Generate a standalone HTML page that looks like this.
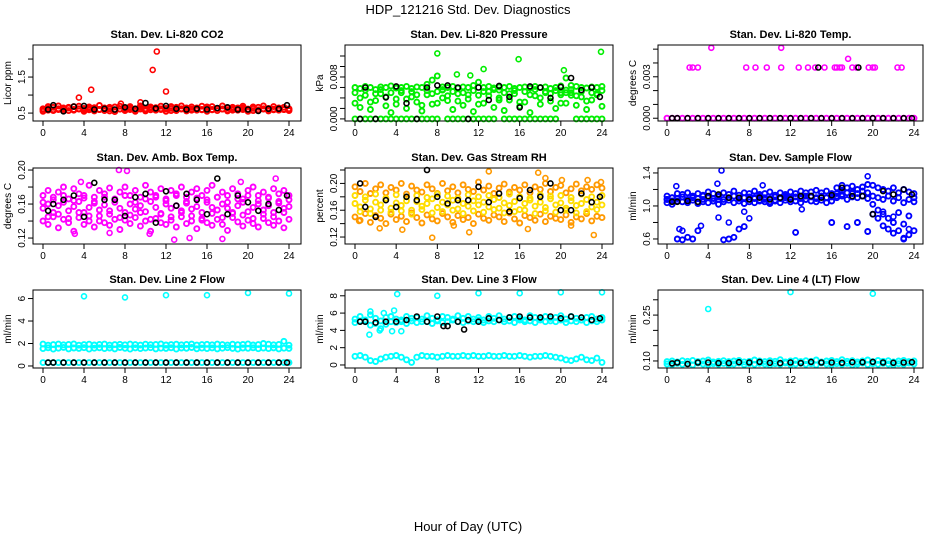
<!DOCTYPE html>
<html><head><meta charset="utf-8"><style>
body{margin:0;background:#fff;}
svg{display:block;font-family:"Liberation Sans",Arial,sans-serif;}
</style></head><body>
<svg id="fig" width="936" height="540" viewBox="0 0 936 540" xmlns="http://www.w3.org/2000/svg">
<text x="468" y="14" font-size="13" text-anchor="middle">HDP_121216  Std. Dev. Diagnostics</text>
<text x="468" y="531" font-size="13" text-anchor="middle">Hour of Day (UTC)</text>
</svg>
<script>
const sampleHours = [0,0.5,1,1.5,2,2.5,3,3.5,4,4.5,5,5.5,6,6.5,7,7.5,8,8.5,9,9.5,10,10.5,11,11.5,12,12.5,13,13.5,14,14.5,15,15.5,16,16.5,17,17.5,18,18.5,19,19.5,20,20.5,21,21.5,22,22.5,23,23.5,24];
const blackHours = [0.5,1,2,3,4,5,6,7,8,9,10,11,12,13,14,15,16,17,18,19,20,21,22,23,23.8];
const xTicks = [0,4,8,12,16,20,24];

const co2A = [0.62,0.58,0.66,0.60,0.64,0.57,0.68,0.61,0.63,0.59,0.65,0.60,0.62,0.56,0.67,0.61,0.60,0.64,0.58,0.66,0.62,0.59,0.65,0.60,0.63,0.57,0.66,0.61,0.64,0.58,0.62,0.60,0.67,0.59,0.63,0.61,0.65,0.58,0.62,0.64,0.60,0.57,0.66,0.61,0.63,0.59,0.64,0.60,0.62];
const co2B = [0.55,0.68,0.57,0.70,0.56,0.66,0.58,0.69,0.55,0.67,0.56,0.71,0.57,0.66,0.54,0.69,0.57,0.68,0.55,0.70,0.56,0.67,0.58,0.69,0.55,0.68,0.57,0.70,0.56,0.67,0.58,0.69,0.55,0.68,0.57,0.70,0.56,0.66,0.58,0.69,0.55,0.67,0.57,0.70,0.56,0.68,0.58,0.66,0.57];
const co2C = [0.60,0.63,0.59,0.62,0.61,0.64,0.60,0.62,0.59,0.63,0.61,0.60,0.64,0.62,0.59,0.61,0.63,0.60,0.62,0.61,0.59,0.64,0.60,0.62,0.61,0.63,0.59,0.62,0.60,0.61,0.64,0.59,0.62,0.60,0.63,0.61,0.59,0.62,0.64,0.60,0.61,0.63,0.59,0.62,0.60,0.61,0.63,0.60,0.59];
const co2Out = [[3.5,0.93],[4.7,1.15],[10.7,1.70],[11.1,2.21],[12.0,1.10],[9.5,0.80],[7.6,0.76]];
const co2K = [0.60,0.72,0.55,0.68,0.70,0.60,0.62,0.60,0.66,0.62,0.78,0.63,0.70,0.62,0.60,0.62,0.60,0.64,0.66,0.60,0.60,0.56,0.62,0.62,0.72];

const presA = [6.0,5.8,6.2,6.0,5.6,6.1,6.0,6.3,5.9,6.0,6.2,5.8,6.1,6.0,6.6,7.4,8.2,6.1,6.0,6.2,5.9,6.1,6.0,6.4,7.0,6.0,6.2,5.9,6.1,6.0,6.2,5.8,6.0,6.1,5.9,6.2,6.0,6.1,5.8,6.0,6.3,7.8,6.4,6.2,6.0,5.9,6.1,6.0,6.2];
const presB = [3.0,2.2,4.5,1.8,3.5,4.8,2.5,1.2,3.8,5.0,2.0,4.2,3.2,1.5,4.6,2.8,5.2,4.0,3.5,1.8,4.8,2.6,3.8,1.4,4.5,3.0,5.2,2.2,4.0,1.6,3.6,4.8,2.4,3.2,1.2,4.4,2.8,5.0,3.4,2.0,4.6,3.0,5.0,2.6,4.2,1.8,3.6,4.8,2.4];
const presC = [0,0,0,0,0,0,0,0,0,0,0,0,0,0,0,0,0,5.5,0,0,0,0,0,0,0,0,0,0,5.5,0,0,0,0,0,0,0,0,0,0,0,5.0,5.5,4.5,0,0,0,0,0,0];
const presD = [5.0,4.0,5.5,3.2,4.8,5.6,4.2,5.0,2.8,5.4,3.8,5.2,4.6,2.6,5.4,4.8,3.0,5.6,4.4,5.2,3.4,5.0,4.6,5.4,2.8,5.2,4.4,5.6,3.6,5.0,4.8,5.4,3.2,5.2,4.6,5.6,4.0,5.2,4.8,5.4,3.0,5.0,5.6,4.4,5.2,3.4,5.0,4.6,5.4];
const presOut = [[8.0,12.5],[15.9,11.4],[23.9,12.8],[12.5,9.5],[20.3,9.3],[11.2,8.3],[9.9,8.5]];
const presK = [0,6.0,0,4.1,6.2,3.0,0,6.0,6.4,6.4,6.0,0,6.0,3.6,6.3,4.2,2.2,6.2,6.0,4.0,6.1,7.8,5.5,6.0,4.2];

const tempA = [0,0,0,0,0,0,0,0,0,0,0,0,0,0,0,0,0,0,0,0,0,0,0,0,0,0,0,0,0,0,0,0,0,0,0,0,0,0,0,0,0,0,0,0,0,0,0,0,0];
const tempOut = [[2.2,3.67],[2.5,3.67],[3.0,3.67],[7.7,3.67],[8.6,3.67],[9.7,3.67],[11.1,3.67],[12.8,3.67],[13.7,3.67],[14.4,3.67],[15.3,3.67],[16.3,3.67],[16.5,3.67],[16.8,3.67],[17.0,3.67],[18.0,3.67],[18.4,3.67],[19.6,3.67],[20.0,3.67],[20.2,3.67],[22.4,3.67],[22.8,3.67],[4.3,5.1],[11.1,5.1],[17.6,4.3]];
const tempK = [0,0,0,0,0,0,0,0,0,0,0,0,0,0,0,0,0,0,0,0,0,0,0,0,0];
const tempKOut = [[14.7,3.67],[18.6,3.67]];

const ambA = [0.170,0.176,0.168,0.174,0.180,0.166,0.178,0.172,0.170,0.182,0.168,0.176,0.172,0.179,0.166,0.174,0.180,0.170,0.176,0.168,0.182,0.174,0.170,0.178,0.166,0.176,0.172,0.180,0.168,0.174,0.178,0.170,0.176,0.182,0.168,0.174,0.170,0.178,0.172,0.166,0.176,0.180,0.170,0.174,0.168,0.178,0.172,0.176,0.170];
const ambB = [0.155,0.160,0.150,0.158,0.162,0.152,0.157,0.163,0.150,0.156,0.161,0.153,0.159,0.148,0.162,0.155,0.150,0.160,0.154,0.158,0.151,0.163,0.156,0.149,0.160,0.155,0.158,0.152,0.161,0.154,0.157,0.150,0.162,0.156,0.153,0.160,0.155,0.149,0.158,0.162,0.151,0.156,0.160,0.153,0.158,0.150,0.161,0.155,0.157];
const ambC = [0.140,0.136,0.145,0.132,0.142,0.138,0.128,0.144,0.136,0.140,0.133,0.146,0.138,0.135,0.142,0.130,0.141,0.137,0.144,0.134,0.140,0.128,0.143,0.138,0.136,0.141,0.133,0.145,0.137,0.140,0.131,0.143,0.138,0.135,0.142,0.136,0.129,0.144,0.139,0.134,0.141,0.137,0.133,0.143,0.138,0.135,0.140,0.132,0.142];
const ambD = [0.162,0.145,0.165,0.148,0.170,0.143,0.164,0.150,0.167,0.146,0.163,0.140,0.168,0.152,0.165,0.144,0.170,0.147,0.162,0.150,0.166,0.142,0.168,0.148,0.164,0.145,0.170,0.150,0.163,0.146,0.167,0.141,0.165,0.149,0.168,0.144,0.162,0.150,0.166,0.147,0.170,0.143,0.164,0.148,0.167,0.145,0.163,0.150,0.165];
const ambOut = [[3.1,0.125],[7.4,0.200],[8.2,0.199],[14.3,0.120],[17.5,0.119],[10.4,0.125],[22.7,0.190],[6.5,0.126],[3.7,0.186],[19.3,0.186],[12.8,0.118]];
const ambK = [0.152,0.160,0.165,0.170,0.145,0.185,0.165,0.165,0.146,0.168,0.172,0.138,0.175,0.158,0.172,0.165,0.148,0.190,0.148,0.170,0.162,0.152,0.160,0.153,0.170];

const rhA = [0.195,0.188,0.200,0.185,0.192,0.198,0.186,0.194,0.190,0.200,0.184,0.196,0.190,0.187,0.198,0.192,0.185,0.200,0.189,0.195,0.186,0.198,0.191,0.188,0.202,0.190,0.196,0.185,0.193,0.199,0.187,0.194,0.190,0.198,0.186,0.195,0.191,0.200,0.188,0.194,0.197,0.186,0.192,0.199,0.189,0.195,0.191,0.198,0.193];
const rhB = [0.170,0.165,0.175,0.162,0.172,0.168,0.176,0.163,0.171,0.167,0.174,0.160,0.173,0.166,0.170,0.177,0.164,0.172,0.168,0.175,0.162,0.170,0.166,0.174,0.168,0.172,0.165,0.176,0.163,0.171,0.167,0.173,0.161,0.170,0.175,0.166,0.172,0.164,0.177,0.168,0.171,0.163,0.174,0.167,0.170,0.176,0.165,0.172,0.168];
const rhC = [0.150,0.145,0.155,0.142,0.152,0.148,0.140,0.154,0.146,0.151,0.143,0.156,0.149,0.141,0.153,0.147,0.144,0.155,0.150,0.142,0.152,0.146,0.149,0.140,0.154,0.148,0.145,0.153,0.150,0.143,0.156,0.147,0.141,0.152,0.149,0.145,0.154,0.143,0.151,0.148,0.146,0.153,0.142,0.150,0.147,0.155,0.144,0.151,0.149];
const rhD = [0.182,0.158,0.180,0.155,0.184,0.160,0.178,0.157,0.183,0.159,0.180,0.154,0.182,0.161,0.179,0.156,0.184,0.158,0.181,0.160,0.178,0.155,0.183,0.159,0.180,0.157,0.182,0.161,0.179,0.156,0.184,0.158,0.180,0.160,0.178,0.155,0.183,0.159,0.181,0.157,0.182,0.160,0.179,0.156,0.184,0.158,0.180,0.161,0.182];
const rhOut = [[2.4,0.133],[4.6,0.131],[7.5,0.119],[11.1,0.127],[13.0,0.218],[16.8,0.132],[17.8,0.216],[18.5,0.208],[20.1,0.205],[21.0,0.137],[22.6,0.205],[23.2,0.123],[23.9,0.202],[0.4,0.144],[9.6,0.137]];
const rhK = [0.200,0.165,0.150,0.175,0.165,0.180,0.175,0.220,0.180,0.170,0.175,0.175,0.195,0.172,0.185,0.158,0.178,0.190,0.180,0.200,0.160,0.160,0.185,0.172,0.180];

const flowA = [1.12,1.10,1.15,1.14,1.16,1.12,1.15,1.13,1.17,1.15,1.12,1.16,1.14,1.18,1.13,1.16,1.15,1.18,1.14,1.15,1.17,1.13,1.16,1.14,1.17,1.15,1.18,1.16,1.17,1.19,1.16,1.18,1.15,1.22,1.25,1.22,1.24,1.20,1.23,1.26,1.25,1.22,1.20,1.18,1.22,1.16,1.20,1.17,1.15];
const flowB = [1.04,1.02,1.06,1.05,1.04,1.07,1.03,1.05,1.04,1.06,1.02,1.05,1.07,1.04,1.06,1.03,1.05,1.04,1.07,1.05,1.03,1.06,1.04,1.07,1.05,1.06,1.04,1.08,1.06,1.05,1.07,1.04,1.06,1.10,1.12,1.08,1.11,1.10,1.12,1.09,1.02,0.95,0.90,0.85,0.80,0.92,0.78,0.88,1.05];
const flowC = [1.08,1.06,0.60,0.59,0.62,0.60,0.70,1.08,1.10,1.06,1.08,0.59,0.60,0.62,0.72,0.75,1.08,1.10,1.06,1.08,1.05,1.07,1.09,1.10,1.08,0.68,1.10,1.08,1.12,1.09,1.11,1.10,0.80,1.12,1.14,0.75,1.15,0.80,1.12,0.69,0.90,0.85,0.76,0.72,0.67,0.70,0.60,0.65,0.70];
const flowD = [1.08,1.10,1.09,1.11,1.08,1.10,1.09,1.12,1.10,1.09,1.11,1.08,1.10,1.12,1.09,1.10,1.11,1.09,1.12,1.10,1.09,1.11,1.10,1.12,1.10,1.11,1.09,1.12,1.11,1.10,1.12,1.10,1.11,1.15,1.18,1.16,1.17,1.15,1.18,1.16,1.12,1.10,1.08,1.12,1.06,1.10,1.04,1.08,1.10];
const flowOut = [[5.3,1.43],[4.9,1.27],[5.0,0.86],[3.3,0.76],[1.2,0.72],[0.9,1.24],[1.5,0.70],[6.0,0.80],[7.5,0.93],[8.0,0.85],[9.3,1.25],[13.1,0.96],[19.5,1.36],[21.0,0.93],[22.0,0.87],[23.0,0.61],[23.5,0.72]];
const flowK = [1.05,1.05,1.06,1.05,1.12,1.14,1.10,1.10,1.08,1.10,1.08,1.10,1.08,1.12,1.12,1.10,1.13,1.22,1.12,1.12,0.90,1.18,1.14,1.20,1.14];

const line2A = [1.95,1.85,1.90,1.95,1.88,1.92,1.96,1.85,1.90,1.94,1.87,1.92,1.95,1.86,1.90,1.93,1.88,1.95,1.90,1.86,1.94,1.89,1.92,1.96,1.87,1.90,1.94,1.88,1.92,1.95,1.86,1.90,1.93,1.88,1.95,1.90,1.86,1.94,1.89,1.92,1.96,1.87,1.90,2.00,1.94,1.88,1.92,2.20,1.85];
const line2B = [1.55,1.62,1.50,1.58,1.65,1.52,1.60,1.56,1.63,1.50,1.58,1.62,1.55,1.60,1.52,1.64,1.57,1.50,1.61,1.55,1.59,1.63,1.52,1.58,1.56,1.62,1.50,1.60,1.57,1.64,1.53,1.59,1.55,1.61,1.52,1.58,1.63,1.56,1.50,1.60,1.57,1.62,1.54,1.59,1.55,1.61,1.52,1.58,1.56];
const line2C = [0.3,0.3,0.3,0.3,0.3,0.3,0.3,0.3,0.3,0.3,0.3,0.3,0.3,0.3,0.3,0.3,0.3,0.3,0.3,0.3,0.3,0.3,0.3,0.3,0.3,0.3,0.3,0.3,0.3,0.3,0.3,0.3,0.3,0.3,0.3,0.3,0.3,0.3,0.3,0.3,0.3,0.3,0.3,0.3,0.3,0.3,0.3,0.3,0.3];
const line2Out = [[4,6.2],[8,6.1],[12,6.3],[16,6.3],[20,6.5],[24,6.45]];
const line2K = [0.3,0.3,0.3,0.3,0.3,0.3,0.3,0.3,0.3,0.3,0.3,0.3,0.3,0.3,0.3,0.3,0.3,0.3,0.3,0.3,0.3,0.3,0.3,0.3,0.3];

const line3A = [5.3,5.6,5.2,5.8,5.4,5.1,5.5,5.6,5.3,5.2,5.6,5.4,5.5,5.3,5.7,5.4,5.2,5.6,5.5,5.3,5.7,5.4,5.6,5.3,5.5,5.2,5.6,5.4,5.7,5.3,5.5,5.6,5.4,5.2,5.7,5.5,5.3,5.6,5.4,5.5,5.7,5.3,5.6,5.4,5.2,5.5,5.6,5.3,5.5];
const line3B = [4.9,5.1,5.0,4.6,4.8,4.2,4.7,5.0,4.9,5.0,4.8,5.1,4.9,5.0,5.0,4.8,5.1,4.9,5.0,5.2,5.0,4.9,5.1,5.0,5.2,4.9,5.1,5.0,5.2,5.0,5.1,4.9,5.2,5.0,5.1,4.9,5.2,5.0,5.1,5.0,5.2,4.9,5.1,5.0,5.2,4.9,5.1,5.0,5.2];
const line3C = [1.0,1.1,0.9,0.5,0.4,0.7,0.9,1.0,1.1,0.9,0.6,0.3,0.9,1.1,1.0,1.0,0.9,1.0,1.1,1.0,1.0,1.1,1.0,1.1,1.0,1.0,1.1,1.0,1.0,1.1,1.0,1.0,1.1,1.0,0.9,1.0,1.0,1.1,1.0,0.9,0.8,0.6,0.5,0.7,0.9,0.6,0.5,0.8,0.3];
const line3Out = [[1.5,6.2],[1.4,3.5],[2.4,4.0],[3.6,3.9],[3.8,6.3],[4.1,8.2],[4.5,3.9],[8.0,8.0],[12,8.3],[16,8.3],[20,8.4],[24,8.4],[2.8,6.0]];
const line3K = [5.0,5.0,4.9,5.0,5.0,5.2,5.6,5.0,5.6,4.5,5.0,5.2,5.0,5.4,5.2,5.5,5.6,5.5,5.5,5.6,5.4,5.6,5.5,5.2,5.4];
const line3KOut = [[8.6,4.5],[10.6,4.1]];

const line4A = [0.098,0.100,0.097,0.101,0.099,0.102,0.098,0.100,0.103,0.097,0.099,0.101,0.098,0.100,0.102,0.097,0.099,0.103,0.100,0.098,0.101,0.099,0.104,0.097,0.100,0.102,0.098,0.101,0.099,0.103,0.097,0.100,0.102,0.098,0.104,0.099,0.101,0.097,0.100,0.103,0.098,0.102,0.099,0.101,0.097,0.100,0.102,0.098,0.100];
const line4B = [0.090,0.088,0.092,0.089,0.091,0.087,0.093,0.090,0.088,0.091,0.089,0.092,0.087,0.090,0.093,0.088,0.091,0.089,0.092,0.090,0.087,0.091,0.089,0.093,0.088,0.090,0.092,0.089,0.091,0.087,0.093,0.090,0.088,0.091,0.089,0.092,0.087,0.090,0.093,0.088,0.091,0.089,0.092,0.090,0.087,0.091,0.089,0.093,0.090];
const line4Out = [[4,0.27],[12,0.325],[20,0.32]];
const line4K = [0.092,0.095,0.090,0.095,0.095,0.093,0.093,0.096,0.095,0.097,0.094,0.093,0.095,0.093,0.097,0.095,0.095,0.094,0.096,0.096,0.097,0.095,0.094,0.095,0.096];

const co2YTicks=[0.5,1.0,1.5,2.0], co2YLabels=["0.5","","1.5",""];
const presYTicks=[0,2,4,6,8,10,12], presYLabels=["0.000","","","","0.008","",""];
const tempYTicks=[0,1,2,3,4,5], tempYLabels=["0.000","","","0.003","",""];
const ambYTicks=[0.12,0.14,0.16,0.18,0.20], ambYLabels=["0.12","","0.16","","0.20"];
const rhYTicks=[0.12,0.14,0.16,0.18,0.20,0.22], rhYLabels=["0.12","","0.16","","0.20",""];
const flowYTicks=[0.6,0.8,1.0,1.2,1.4], flowYLabels=["0.6","","1.0","","1.4"];
const line2YTicks=[0,2,4,6], line2YLabels=["0","2","4","6"];
const line3YTicks=[0,2,4,6,8], line3YLabels=["0","2","4","6","8"];
const line4YTicks=[0.10,0.15,0.20,0.25,0.30], line4YLabels=["0.10","","","0.25",""];

const NS="http://www.w3.org/2000/svg";
const svg=document.getElementById('fig');
const cols=[{l:33,r:301,x0:43,x24:289},{l:345,r:613,x0:355,x24:602},{l:658,r:923,x0:667,x24:914}];
const rows=[{t:45,b:121},{t:168,b:244},{t:290,b:368}];
function mk(tag,attrs,parent){const e=document.createElementNS(NS,tag);for(const k in attrs)e.setAttribute(k,attrs[k]);(parent||svg).appendChild(e);return e;}

const panels=[
 {name:'co2',title:'Stan. Dev. Li-820 CO2',ylab:'Licor ppm',c:0,r:0,ymin:0.28,ymax:2.39,series:[[co2A,'#ff0000'],[co2B,'#ff0000'],[co2C,'#ff0000']],out:co2Out,oc:'#ff0000',k:co2K,yt:co2YTicks,yl:co2YLabels},
 {name:'pressure',title:'Stan. Dev. Li-820 Pressure',ylab:'kPa',c:1,r:0,ymin:-0.4,ymax:14.1,series:[[presA,'#00ee00'],[presB,'#00ee00'],[presC,'#00ee00'],[presD,'#00ee00']],out:presOut,oc:'#00ee00',k:presK,yt:presYTicks,yl:presYLabels},
 {name:'li820-temp',title:'Stan. Dev. Li-820 Temp.',ylab:'degrees C',c:2,r:0,ymin:-0.2,ymax:5.3,series:[[tempA,'#ff00ff']],out:tempOut,oc:'#ff00ff',k:tempK,kOut:tempKOut,yt:tempYTicks,yl:tempYLabels},
 {name:'amb-box-temp',title:'Stan. Dev. Amb. Box Temp.',ylab:'degrees C',c:0,r:1,ymin:0.113,ymax:0.2024,series:[[ambA,'#ff00ff'],[ambB,'#ff00ff'],[ambC,'#ff00ff'],[ambD,'#ff00ff']],out:ambOut,oc:'#ff00ff',k:ambK,yt:ambYTicks,yl:ambYLabels},
 {name:'gas-stream-rh',title:'Stan. Dev. Gas Stream RH',ylab:'percent',c:1,r:1,ymin:0.1096,ymax:0.223,series:[[rhA,'#ff9900'],[rhB,'#ffdd00'],[rhC,'#ff9900'],[rhD,'#ffdd00']],out:rhOut,oc:'#ff9900',k:rhK,yt:rhYTicks,yl:rhYLabels},
 {name:'sample-flow',title:'Stan. Dev. Sample Flow',ylab:'ml/min',c:2,r:1,ymin:0.539,ymax:1.46,series:[[flowA,'#0000ff'],[flowB,'#0000ff'],[flowC,'#0000ff'],[flowD,'#0000ff']],out:flowOut,oc:'#0000ff',k:flowK,yt:flowYTicks,yl:flowYLabels},
 {name:'line2-flow',title:'Stan. Dev. Line 2 Flow',ylab:'ml/min',c:0,r:2,ymin:-0.18,ymax:6.76,series:[[line2A,'#00ffff'],[line2B,'#00ffff'],[line2C,'#00ffff']],out:line2Out,oc:'#00ffff',k:line2K,yt:line2YTicks,yl:line2YLabels},
 {name:'line3-flow',title:'Stan. Dev. Line 3 Flow',ylab:'ml/min',c:1,r:2,ymin:-0.35,ymax:8.67,series:[[line3A,'#00ffff'],[line3B,'#00ffff'],[line3C,'#00ffff']],out:line3Out,oc:'#00ffff',k:line3K,kOut:line3KOut,yt:line3YTicks,yl:line3YLabels},
 {name:'line4-flow',title:'Stan. Dev. Line 4 (LT) Flow',ylab:'ml/min',c:2,r:2,ymin:0.077,ymax:0.332,series:[[line4A,'#00ffff'],[line4B,'#00ffff']],out:line4Out,oc:'#00ffff',k:line4K,yt:line4YTicks,yl:line4YLabels}
];

panels.forEach(p=>{
  const C=cols[p.c],R=rows[p.r];
  const g=mk('g',{});
  
  
  const xs=h=>C.x0+(C.x24-C.x0)*h/24;
  const ys=v=>R.b-(R.b-R.t)*(v-p.ymin)/(p.ymax-p.ymin);
  const dot=(h,v,col,nm,sw)=>{const e=mk('circle',{cx:xs(h).toFixed(1),cy:ys(v).toFixed(1),r:2.5,fill:'none',stroke:col,'stroke-width':sw},g);
    
    };
  p.series.forEach(([arr,col])=>arr.forEach((v,i)=>dot(sampleHours[i],v,col,'data-point',1.9)));
  p.out.forEach(([h,v])=>dot(h,v,p.oc,'outlier-point',1.6));
  p.k.forEach((v,i)=>dot(blackHours[i],v,'#000','hourly-mean-point',1.6));
  (p.kOut||[]).forEach(([h,v])=>dot(h,v,'#000','hourly-mean-point',1.6));
  const box=mk('rect',{x:C.l,y:R.t,width:C.r-C.l,height:R.b-R.t,fill:'none',stroke:'#000','stroke-width':1},g);
  
  
  const t=mk('text',{x:(C.l+C.r)/2,y:R.t-7,'font-size':11,'font-weight':'bold','text-anchor':'middle'},g);
  t.textContent=p.title;
  
  
  const yl=mk('text',{x:0,y:0,'font-size':10,'text-anchor':'middle',transform:`translate(${C.l-22},${(R.t+R.b)/2}) rotate(-90)`},g);
  yl.textContent=p.ylab;
  
  
  mk('line',{x1:xs(0),x2:xs(24),y1:R.b,y2:R.b,stroke:'#000'},g);
  xTicks.forEach(h=>{mk('line',{x1:xs(h),x2:xs(h),y1:R.b,y2:R.b+5,stroke:'#000'},g);
    const tl=mk('text',{x:xs(h),y:R.b+15,'font-size':10,'text-anchor':'middle'},g);tl.textContent=h;
    
    });
  p.yt.forEach((v,i)=>{const y=ys(v);mk('line',{x1:C.l-5,x2:C.l,y1:y,y2:y,stroke:'#000'},g);
    if(p.yl[i]){const tl=mk('text',{x:0,y:0,'font-size':10,'text-anchor':'middle',transform:`translate(${C.l-8},${y}) rotate(-90)`},g);tl.textContent=p.yl[i];
    
    }});
  mk('line',{x1:C.l,x2:C.l,y1:ys(p.yt[0]),y2:ys(p.yt[p.yt.length-1]),stroke:'#000'},g);
});
</script>
</body></html>
